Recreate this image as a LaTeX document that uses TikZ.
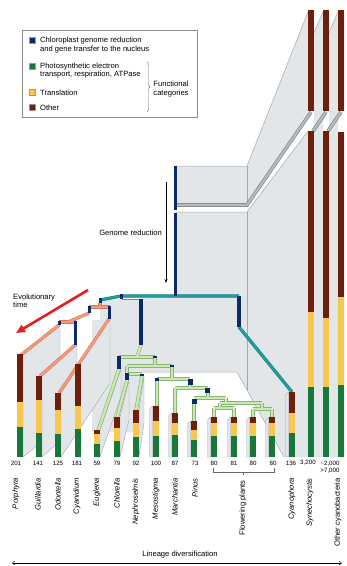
\documentclass[tikz,border=0pt]{standalone}
\usepackage{fontspec}
\setmainfont{Liberation Sans}
\usetikzlibrary{arrows.meta,decorations.pathreplacing}
\definecolor{navy}{HTML}{0A2A6B}
\definecolor{dgreen}{HTML}{16793A}
\definecolor{yel}{HTML}{F9C74F}
\definecolor{brn}{HTML}{6E1E0B}
\definecolor{salm}{HTML}{F39A7C}
\definecolor{salmE}{HTML}{D9765A}
\definecolor{lgr}{HTML}{CDE7B6}
\definecolor{lgrE}{HTML}{86B86F}
\definecolor{tealc}{HTML}{1E9E9C}
\definecolor{tealE}{HTML}{137877}
\definecolor{pan}{HTML}{E3E6E8}
\definecolor{panE}{HTML}{A3A8AB}
\definecolor{beam}{HTML}{B4BBBF}
\definecolor{beamE}{HTML}{80888C}
\definecolor{redar}{HTML}{E31E24}
\newcommand\fsA{\fontsize{7.6}{8.2}\selectfont}
\newcommand\fsN{\fontsize{6.2}{7}\selectfont}
\newcommand\cbar[4]{\fill[brn] (#1-3.2,#2) rectangle (#1+3.2,#3); \fill[yel] (#1-3.2,#3) rectangle (#1+3.2,#4); \fill[dgreen] (#1-3.2,#4) rectangle (#1+3.2,457);}
\newcommand\sideface[2]{\draw[fill=pan, draw=panE, line width=0.35] (#1-6.5,#2+3) -- (#1-3.2,#2) -- (#1-3.2,457) -- (#1-6.5,457) -- cycle;}
\newcommand\redtree[1]{%
 \draw[#1] (100,303) -- (100,307);
 \draw[#1] (89,307) -- (110,307);
 \draw[#1] (89,313) -- (68,322);
 \draw[#1] (59,322) -- (76,322);
 \draw[#1] (59,325) -- (21,355);
 \draw[#1] (75,345) -- (40,376);
 \draw[#1] (109,319) -- (59,393);}
\newcommand\tealtree[1]{%
 \draw[#1] (100,300) -- (121,296) -- (239,296);
 \draw[#1] (239,327) -- (292,392);}
\newcommand\greentree[1]{%
 \draw[#1] (141,345) -- (137,357);
 \draw[#1] (119,357) -- (155,357);
 \draw[#1] (119,369) -- (98,431);
 \draw[#1] (155,357) -- (155,366);
 \draw[#1] (127,366) -- (172,366);
 \draw[#1] (127,366) -- (127,374);
 \draw[#1] (127,374) -- (142,374);
 \draw[#1] (127,380) -- (117,418);
 \draw[#1] (142,376) -- (136,411);
 \draw[#1] (172,366) -- (172,379);
 \draw[#1] (157,379) -- (190,379);
 \draw[#1] (157,381) -- (157,407);
 \draw[#1] (190,385) -- (190,388);
 \draw[#1] (175,388) -- (208,388);
 \draw[#1] (175,388) -- (175,414);
 \draw[#1] (208,393) -- (208,398);
 \draw[#1] (194,398) -- (226,398);
 \draw[#1] (194,403) -- (194,422);
 \draw[#1] (226,398) -- (226,403);
 \draw[#1] (220,403) -- (262,403);
 \draw[#1] (220,403) -- (220,408);
 \draw[#1] (214,408) -- (234,408);
 \draw[#1] (214,408) -- (214,418);
 \draw[#1] (234,408) -- (234,418);
 \draw[#1] (262,403) -- (262,409);
 \draw[#1] (253,409) -- (272,409);
 \draw[#1] (253,409) -- (253,418);
 \draw[#1] (272,409) -- (272,418);}
\newcommand\beams[1]{%
 \draw[#1] (311,112) -- (247,205) -- (175,205);
 \draw[#1] (326,112) -- (313,131);
 \draw[#1] (341,112) -- (328,131);}
\tikzset{
 wall/.style={fill=pan, draw=panE, line width=0.4},
 edge/.style={draw=panE, line width=0.5},
 lbl/.style={font=\fsA, inner sep=0pt},
 num/.style={font=\fsN, inner sep=0pt},
 nm/.style={font=\fsA\itshape, rotate=90, anchor=east, inner sep=0pt},
 nmu/.style={font=\fsA, rotate=90, anchor=east, inner sep=0pt},
 sq/.style={draw=black!40, line width=0.3}
}
\begin{document}
\begin{tikzpicture}[x=1pt,y=-1pt]
\useasboundingbox (0,0) rectangle (347,566);
% ---------- grey panels
\fill[pan] (175,166) -- (247,166) -- (308,12) -- (308,112) -- (247,204) -- (175,204) -- cycle;
\draw[edge] (175,166) -- (247,166) -- (308,12);
\draw[edge] (247,166) -- (247,204);
\fill[pan] (175,212) -- (247,212) -- (308,131) -- (308,457) -- (284,457) -- (237,372) -- (100,372) -- (100,300) -- (175,297) -- cycle;
\fill[pan] (92,320) rectangle (143,432);
\draw[edge] (175,212) -- (247,212) -- (308,131);
\draw[edge] (247,212) -- (247,390);
\draw[edge] (143,372) -- (237,372) -- (284,457);
\fill[pan] (314,33) -- (323,12) -- (323,457) -- (314,457) -- cycle;
\fill[pan] (329,33) -- (338,12) -- (338,457) -- (329,457) -- cycle;
\draw[edge] (314,33) -- (323,12) (329,33) -- (338,12);
% ---------- walls
\draw[wall] (23,354) -- (60,324) -- (60,427) -- (23,457) -- cycle;
\draw[wall] (42,376) -- (77,345) -- (77,426) -- (42,457) -- cycle;
\draw[wall] (61,393) -- (110,319) -- (110,383) -- (61,457) -- cycle;
\draw[wall] (100,430) -- (121,369) -- (121,396) -- (100,457) -- cycle;
\draw[wall] (120,417) -- (129,380) -- (129,420) -- (120,457) -- cycle;
\draw[wall] (139,410) -- (144,376) -- (144,423) -- (139,457) -- cycle;
% ---------- beams
\beams{beamE, line width=3.6}
\beams{beam, line width=2.2}
% ---------- connectors
\redtree{salmE, line width=3.2}
\redtree{salm, line width=2.2}
\tealtree{tealE, line width=3.2}
\tealtree{tealc, line width=2.3}
\draw[beamE, line width=1] (122,299) -- (140,299);
\greentree{lgrE, line width=3.6}
\greentree{lgr, line width=2.4}
% ---------- blue genome-reduction marks
\fill[navy] (173.5,166) rectangle (177,210);
\fill[navy] (173.5,213) rectangle (177,296);
\fill[navy] (98.5,298) rectangle (101.5,303);
\fill[navy] (87.5,306) rectangle (90.5,313);
\fill[navy] (107.5,306) rectangle (110.5,319);
\fill[navy] (57.5,320.5) rectangle (61,325);
\fill[navy] (73.5,321) rectangle (77,345);
\fill[navy] (119.5,294) rectangle (123,298.5);
\fill[navy] (237,296) rectangle (240.5,327);
\fill[navy] (139,299) rectangle (142.5,345);
\fill[navy] (117,356) rectangle (121,369);
\fill[navy] (153,355.5) rectangle (157,358);
\fill[navy] (125,373) rectangle (129,380);
\fill[navy] (140,373.5) rectangle (144,376);
\fill[navy] (170,364.5) rectangle (174,367);
\fill[navy] (155,378) rectangle (159,381);
\fill[navy] (188,378.5) rectangle (192.5,385);
\fill[navy] (205,388) rectangle (210,393);
\fill[navy] (191.5,399) rectangle (196.5,403.5);
% ---------- side faces of bars
\sideface{156}{406}
\sideface{175}{413}
\sideface{194}{421}
\sideface{214}{417}
\sideface{234}{417}
\sideface{253}{417}
\sideface{272}{417}
\sideface{292}{392}
% ---------- bars
\cbar{20}{354}{402}{427}
\cbar{39}{376}{400}{433}
\cbar{58}{393}{410}{434}
\cbar{78}{364}{406}{429}
\cbar{97}{430}{434}{444}
\cbar{117}{417}{428}{441}
\cbar{136}{410}{423}{437}
\cbar{156}{406}{421}{436}
\cbar{175}{413}{423}{435}
\cbar{194}{421}{430}{440}
\cbar{214}{417}{423}{436}
\cbar{234}{417}{423}{436}
\cbar{253}{417}{423}{436}
\cbar{272}{417}{423}{436}
\cbar{292}{392}{413}{433}
\fill[brn] (307.8,10) rectangle (314.2,111);
\fill[brn] (322.8,10) rectangle (329.2,111);
\fill[brn] (337.8,10) rectangle (344.2,111);
\cbar{311}{131}{312}{387}
\cbar{326}{131}{318}{387}
\cbar{341}{132}{297}{385}
% ---------- legend
\draw[black!45, line width=0.4] (22,30) rectangle (197,117);
\fill[navy] (29,37) rectangle (35.5,43.5); \draw[sq] (29,37) rectangle (35.5,43.5);
\fill[dgreen] (29,63) rectangle (35.5,69.5); \draw[sq] (29,63) rectangle (35.5,69.5);
\fill[yel] (29,89) rectangle (35.5,95.5); \draw[sq] (29,89) rectangle (35.5,95.5);
\fill[brn] (29,104) rectangle (35.5,110.5); \draw[sq] (29,104) rectangle (35.5,110.5);
\node[lbl, anchor=west, align=left] (l1) at (40,45) {Chloroplast genome reduction\\and gene transfer to the nucleus};
\node[lbl, anchor=west, align=left] (l2) at (40,70.5) {Photosynthetic electron\\transport, respiration, ATPase};
\node[lbl, anchor=west] (l3) at (40,92.5) {Translation};
\node[lbl, anchor=west] (l4) at (40,107.5) {Other};
\draw[black!55, line width=0.4, decorate, decoration={brace, amplitude=3pt}] (147,62) -- (147,112);
\node[lbl, align=center] (fc) at (171,89) {Functional\\categories};
% ---------- annotations
\node[lbl, anchor=east] (gr) at (162,233) {Genome reduction};
\coordinate (gra) at (166,182);
\coordinate (grb) at (166,283);
\draw[line width=0.5, -{Stealth[length=4pt,width=3pt]}] (gra) -- (grb);
\node[lbl, anchor=north west, align=left] (evo) at (13,294) {Evolutionary\\time};
\coordinate (ra) at (88,290);
\coordinate (rb) at (16,333);
\draw[redar, line width=2.6, -{Triangle[length=9pt,width=8pt]}] (ra) -- (rb);
% ---------- numbers
\node[num] (n1) at (16,463) {201};
\node[num] (n2) at (38,463) {141};
\node[num] (n3) at (58,463) {125};
\node[num] (n4) at (77,463) {181};
\node[num] (n5) at (97,463) {59};
\node[num] (n6) at (117,463) {79};
\node[num] (n7) at (136,463) {92};
\node[num] (n8) at (156,463) {100};
\node[num] (n9) at (175,463) {87};
\node[num] (n10) at (195,463) {73};
\node[num] (n11) at (214,463) {80};
\node[num] (n12) at (234,463) {81};
\node[num] (n13) at (253,463) {80};
\node[num] (n14) at (273,463) {80};
\node[num] (n15) at (291,463) {136};
\node[num] (n16) at (308,463) {3,200};
\node[num, align=center] (n17) at (330,467) {\textasciitilde2,000\\>7,000};
% ---------- names
\node[nm] (p1) at (16,478) {Porphyra};
\node[nm] (p2) at (38,478) {Guillardia};
\node[nm] (p3) at (58,478) {Odontella};
\node[nm] (p4) at (77,478) {Cyanidium};
\node[nm] (p5) at (97,478) {Euglena};
\node[nm] (p6) at (117,478) {Chlorella};
\node[nm] (p7) at (136,478) {Nephroselmis};
\node[nm] (p8) at (156,478) {Mesostigma};
\node[nm] (p9) at (175,478) {Marchantia};
\node[nm] (p10) at (195,478) {Pinus};
\node[nmu] (p11) at (243,480) {Flowering plants};
\node[nm] (p12) at (292,478) {Cyanophora};
\node[nm] (p13) at (310,478) {Synechocystis};
\node[nmu] (p14) at (338,478) {Other cyanobacteria};
\draw[black!60, line width=0.4] (213,468) -- (213,472) -- (274,472) -- (274,468);
\draw[black!60, line width=0.4] (243,472) -- (243,475);
% ---------- axis
\node[lbl] (ld) at (180,555) {Lineage diversification};
\coordinate (axl) at (12,563);
\coordinate (axr) at (342,563);
\draw[line width=0.4, {Straight Barb[length=2.5pt,width=4pt]}-{Straight Barb[length=2.5pt,width=4pt]}] (axl) -- (axr);
\end{tikzpicture}
\end{document}
